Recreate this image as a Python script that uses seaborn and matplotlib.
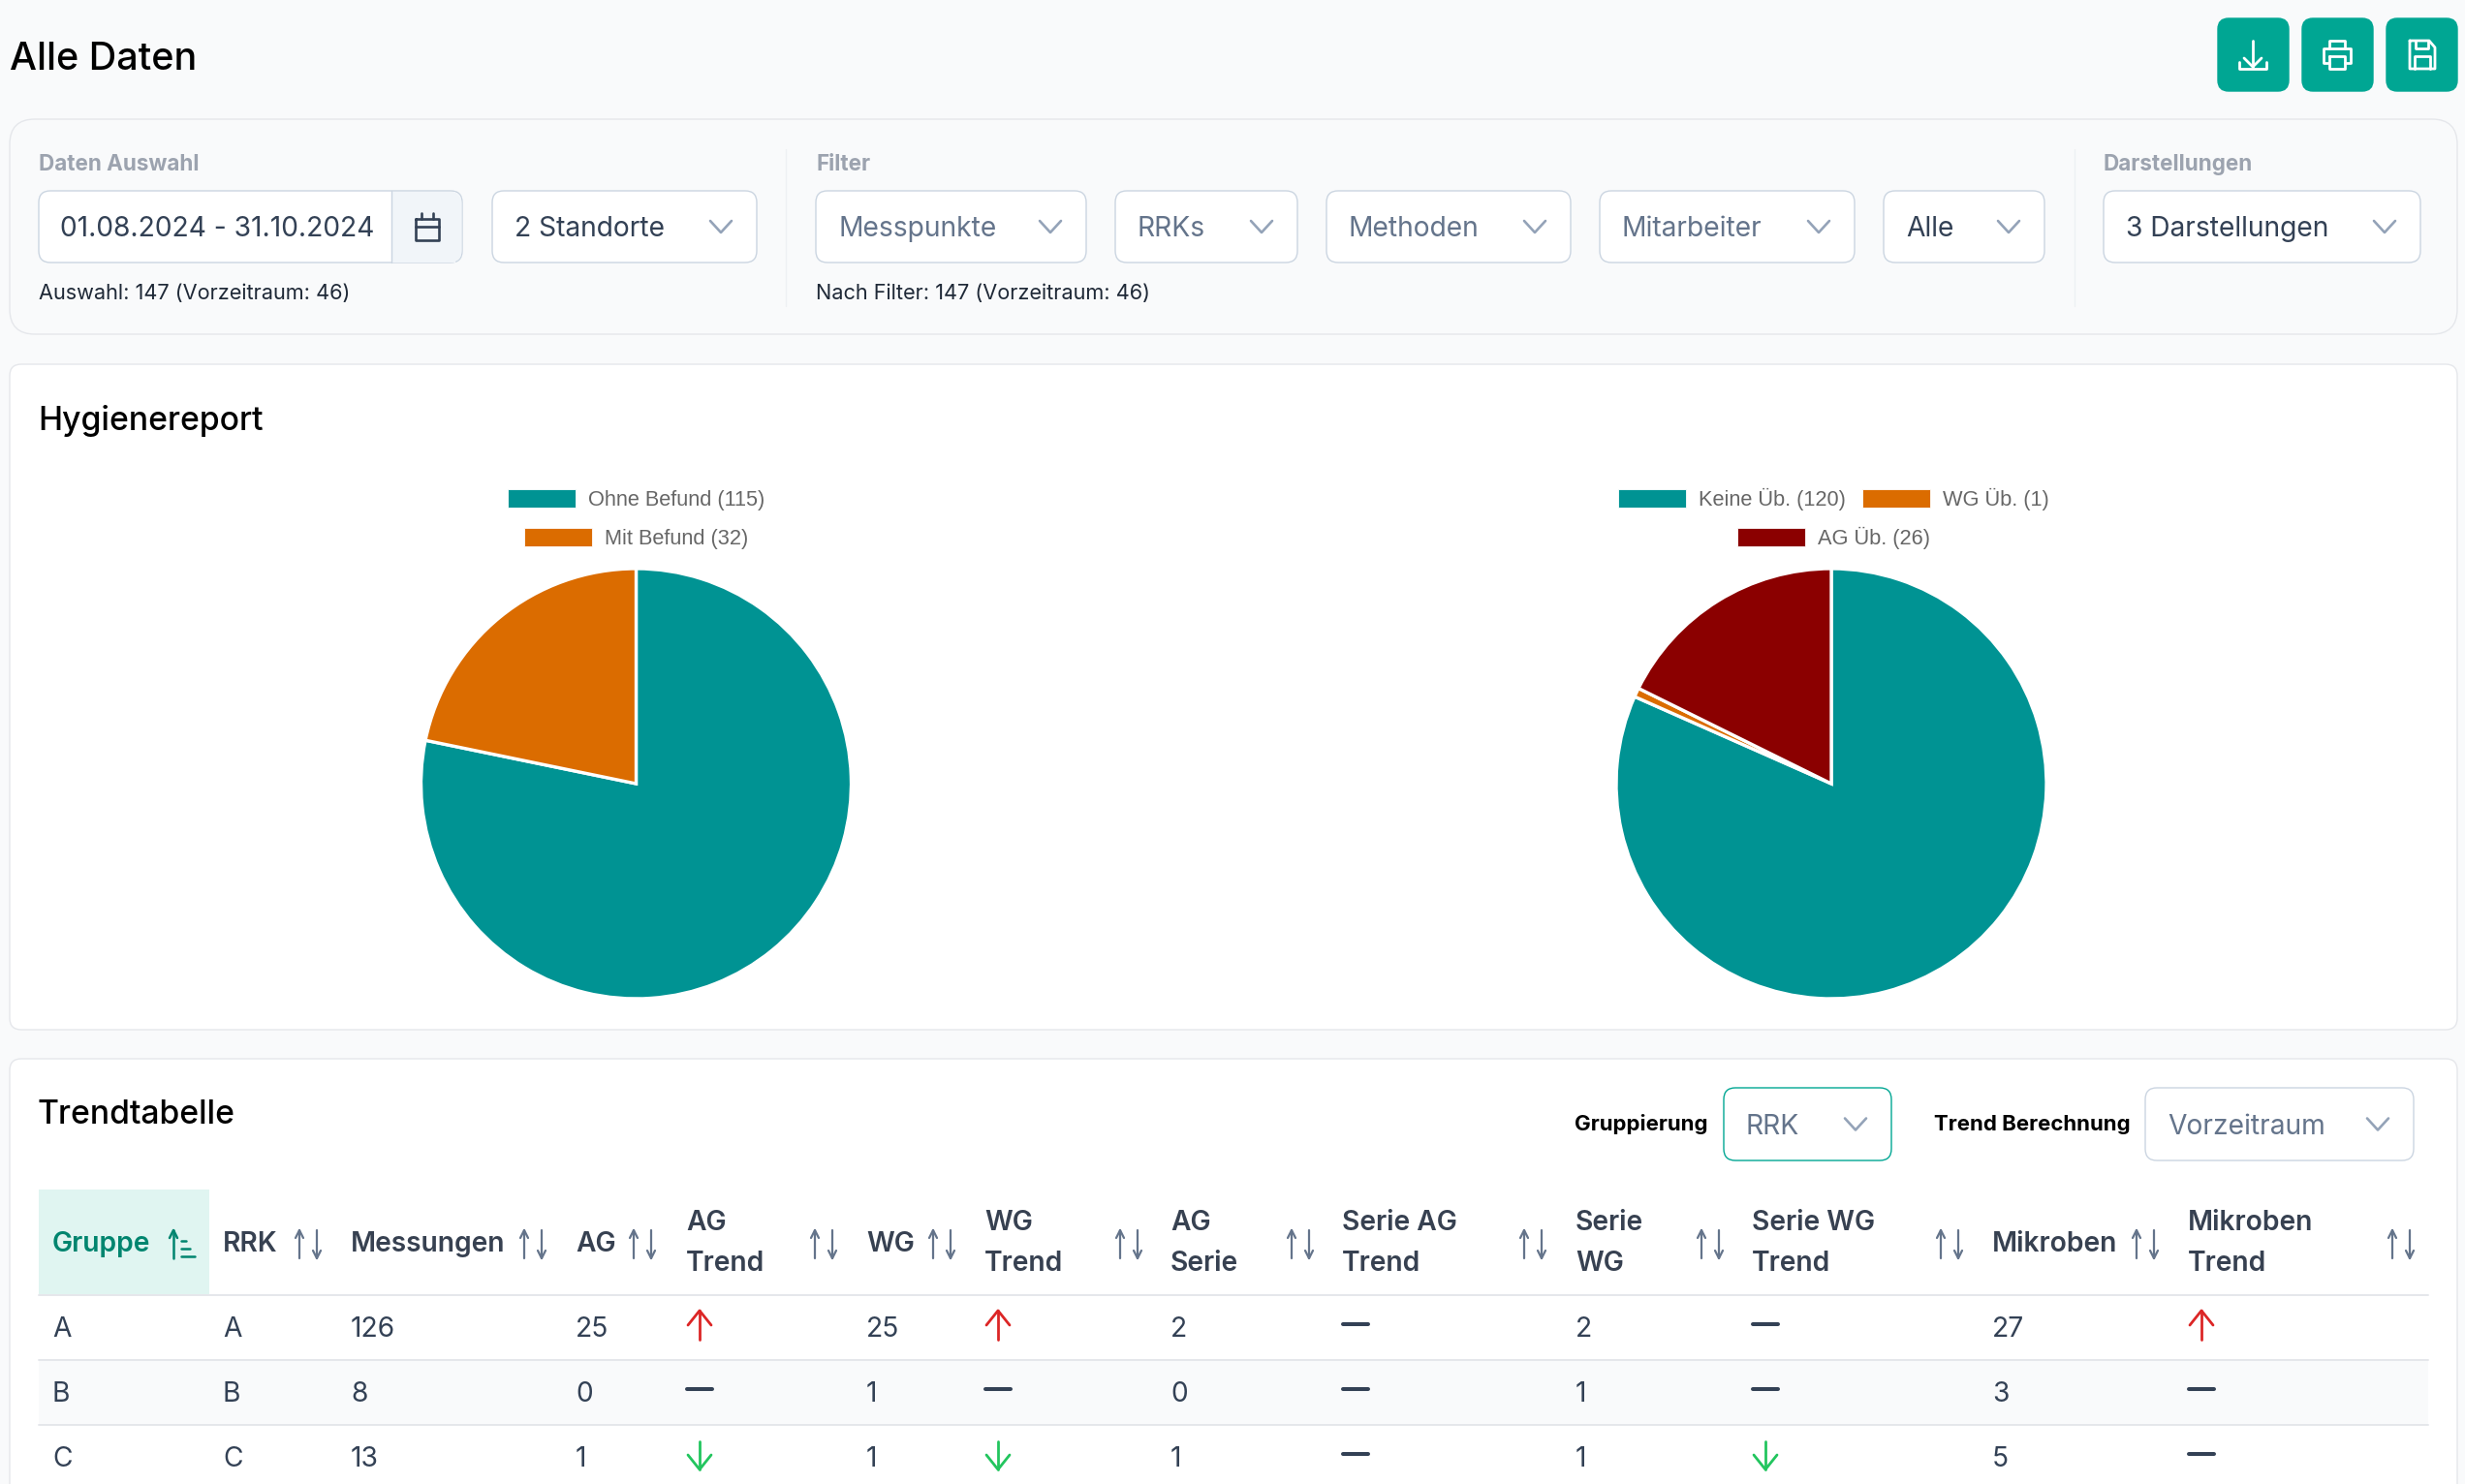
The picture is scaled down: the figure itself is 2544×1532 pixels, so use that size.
import numpy as np
import matplotlib
matplotlib.use("Agg")
import matplotlib.pyplot as plt
from matplotlib.patches import FancyBboxPatch, Rectangle
import seaborn as sns

# chart data
befund_labels = ["Ohne Befund", "Mit Befund"]
befund_values = [115, 32]
ueb_labels = ["Keine Üb.", "WG Üb.", "AG Üb."]
ueb_values = [120, 1, 26]

gruppe = ["A", "B", "C"]
rrk = ["A", "B", "C"]
messungen = [126, 8, 13]
ag = [25, 0, 1]
ag_trend = ["up", "flat", "down"]
wg = [25, 1, 1]
wg_trend = ["up", "flat", "down"]
ag_serie = [2, 0, 1]
serie_ag_trend = ["flat", "flat", "flat"]
serie_wg = [2, 1, 1]
serie_wg_trend = ["flat", "flat", "down"]
mikroben = [27, 3, 5]
mikroben_trend = ["up", "flat", "flat"]

W, H = 2544, 1532
sns.set_theme(style="white")
plt.rcParams["font.family"] = ["Inter", "DejaVu Sans"]
pie_colors = sns.color_palette(["#009393", "#DB6C00", "#8B0000"])

TEAL = "#00A693"
BORDER = "#CBD5E1"
PANEL_LINE = "#E5E7EB"
DARK = "#334155"
SLATE = "#64748B"
CHEVRON = "#94A3B8"

fig = plt.figure(figsize=(W / 100, H / 100), dpi=100, facecolor="#F9FAFB")
ax = fig.add_axes([0, 0, 1, 1])
ax.set_xlim(0, W)
ax.set_ylim(H, 0)
ax.axis("off")


def label(x, y, s, px, color="#000000", weight="normal", ha="left"):
    # y is the middle of the capital letters
    ax.text(x, y + 0.36 * px, s, fontsize=px * 0.72, color=color, weight=weight,
            ha=ha, va="baseline")


def box(x0, y0, x1, y1, fc="white", ec=BORDER, lw=1.0, r=12, z=1):
    ax.add_patch(FancyBboxPatch((x0 + r, y0 + r), x1 - x0 - 2 * r, y1 - y0 - 2 * r,
                                boxstyle=f"round,pad={r},rounding_size={r}",
                                fc=fc, ec=ec, lw=lw, zorder=z))


def stroke(xs, ys, color="white", lw=2.0, z=5):
    ax.plot(xs, ys, color=color, lw=lw, zorder=z, solid_capstyle="round",
            solid_joinstyle="round")


def chevron(cx, cy=234.5):
    stroke([cx - 11, cx, cx + 11], [cy - 6, cy + 6, cy - 6], color=CHEVRON, lw=1.9)


def select(x0, x1, text, color=SLATE, y0=197, y1=271, ec=BORDER, tx=23, cx=37):
    box(x0, y0, x1, y1, ec=ec)
    label(x0 + tx, (y0 + y1) / 2, text, 28.2, color=color)
    chevron(x1 - cx, (y0 + y1) / 2)


# header
label(10, 58, "Alle Daten", 39.5, weight="medium")
for x0, x1 in [(2289, 2362), (2376, 2449), (2463, 2536)]:
    box(x0, 19, x1, 94, fc=TEAL, ec=TEAL, r=11)

# download icon
cx = 2325
stroke([cx, cx], [42, 69])
stroke([cx - 9, cx, cx + 9], [60, 69, 60])
stroke([cx - 14, cx - 14, cx + 14, cx + 14], [64, 71, 71, 64])
# printer icon
cx = 2412
stroke([cx - 8, cx - 8, cx + 8, cx + 8], [50, 42, 42, 50])
stroke([cx - 8, cx - 14, cx - 14, cx - 8], [65, 65, 50, 50])
stroke([cx - 8, cx + 14, cx + 14, cx + 8], [50, 50, 65, 65])
stroke([cx - 8, cx - 8, cx + 8, cx + 8, cx - 8], [58, 71, 71, 58, 58])
# save icon
cx = 2500
stroke([cx - 13, cx + 7, cx + 13, cx + 13, cx - 13, cx - 13], [42, 42, 49, 71, 71, 42])
stroke([cx - 7, cx - 7, cx + 6, cx + 6], [42, 50, 50, 42])
stroke([cx - 8, cx - 8, cx + 8, cx + 8], [71, 58, 58, 71])

# filter panel
box(10, 123, 2536, 345, fc="#F9FAFB", ec=PANEL_LINE, r=26)
for x in (811, 2141):
    ax.plot([x, x], [154, 316], color="#EEF0F3", lw=1.0, zorder=2)
label(40, 168, "Daten Auswahl", 22.4, color="#9CA3AF", weight="bold")
label(842, 168, "Filter", 22.4, color="#9CA3AF", weight="bold")
label(2171, 168, "Darstellungen", 22.4, color="#9CA3AF", weight="bold")

box(40, 197, 477, 271)
ax.add_patch(Rectangle((404, 198), 66, 72.5, fc="#F1F5F9", ec="none", zorder=2))
box(440, 198, 476.5, 270.5, fc="#F1F5F9", ec="none", z=2)
ax.plot([404, 404], [197, 271], color=BORDER, lw=1.0, zorder=3)
label(62, 234, "01.08.2024 - 31.10.2024", 28.2, color=DARK)
# calendar icon
stroke([429, 429, 453, 453, 429], [226, 248, 248, 226, 226], color=DARK, lw=1.9)
stroke([429, 453], [234, 234], color=DARK, lw=1.9)
stroke([435, 435], [220, 226], color=DARK, lw=1.9)
stroke([447, 447], [220, 226], color=DARK, lw=1.9)

select(508, 781, "2 Standorte", color=DARK)
select(842, 1121, "Messpunkte")
select(1151, 1339, "RRKs")
select(1369, 1621, "Methoden")
select(1651, 1914, "Mitarbeiter")
select(1944, 2110, "Alle", color=DARK)
select(2171, 2498, "3 Darstellungen", color=DARK)
label(40, 301, "Auswahl: 147 (Vorzeitraum: 46)", 21.7, color="#1F2937")
label(842, 301, "Nach Filter: 147 (Vorzeitraum: 46)", 21.7, color="#1F2937")

# hygiene panel
box(10, 376, 2536, 1063, ec=PANEL_LINE, r=12)
label(39, 432, "Hygienereport", 33.7, weight="medium")


def pie(values, cx, cy, r=222):
    pax = fig.add_axes([(cx - r) / W, 1 - (cy + r) / H, 2 * r / W, 2 * r / H])
    pax.pie(values, colors=pie_colors[:len(values)], startangle=90, counterclock=False,
            wedgeprops={"edgecolor": "white", "linewidth": 2.4, "clip_on": False})
    pax.set_xlim(-1, 1)
    pax.set_ylim(-1, 1)
    pax.patch.set_alpha(0)


def legend_item(x0, ycenter, name, value, color):
    ax.add_patch(Rectangle((x0, ycenter - 9.5), 70, 19, fc=color, ec="white", lw=0.6, zorder=3))
    ax.text(x0 + 83, ycenter + 7.3, f"{name} ({value})", fontsize=21.8 * 0.72, color="#666666",
            family="Liberation Sans", va="baseline")


pie(befund_values, 656.5, 809)
pie(ueb_values, 1890, 809)
legend_item(524, 514.5, befund_labels[0], befund_values[0], pie_colors[0])
legend_item(541, 554.5, befund_labels[1], befund_values[1], pie_colors[1])
legend_item(1670, 514.5, ueb_labels[0], ueb_values[0], pie_colors[0])
legend_item(1922, 514.5, ueb_labels[1], ueb_values[1], pie_colors[1])
legend_item(1793, 554.5, ueb_labels[2], ueb_values[2], pie_colors[2])

# trend panel, runs off the bottom of the screenshot
box(10, 1093, 2536, 1600, ec=PANEL_LINE, r=12)
label(39, 1148, "Trendtabelle", 33.7, weight="medium")
label(1625, 1159, "Gruppierung", 22.2, weight="bold")
label(1996, 1159, "Trend Berechnung", 22.2, weight="bold")
select(1779, 1952, "RRK", y0=1123, y1=1198, ec=TEAL, cx=37)
select(2214, 2491, "Vorzeitraum", y0=1123, y1=1198, cx=37)

# table
ax.add_patch(Rectangle((40, 1228), 176, 108, fc="#E0F5F1", ec="none", zorder=2))
ax.add_patch(Rectangle((40, 1403), 2466, 67, fc="#F9FAFB", ec="none", zorder=2))
for y in (1336.5, 1403.5, 1470.5):
    ax.plot([40, 2506], [y, y], color="#E5E7EB", lw=1.4, zorder=3)

columns = [
    (["Gruppe"], 54, 187, gruppe),
    (["RRK"], 230, 318, rrk),
    (["Messungen"], 362, 550, messungen),
    (["AG"], 594, 663, ag),
    (["AG", "Trend"], 708, 850, ag_trend),
    (["WG"], 894, 972, wg),
    (["WG", "Trend"], 1016, 1165, wg_trend),
    (["AG", "Serie"], 1208, 1342, ag_serie),
    (["Serie AG", "Trend"], 1385, 1582, serie_ag_trend),
    (["Serie", "WG"], 1626, 1765, serie_wg),
    (["Serie WG", "Trend"], 1808, 2012, serie_wg_trend),
    (["Mikroben"], 2056, 2214, mikroben),
    (["Mikroben", "Trend"], 2258, 2478, mikroben_trend),
]
row_y = [1370, 1437, 1504]
TREND_COLORS = {"up": "#DC2626", "down": "#22C55E", "flat": DARK}


def arrow(cx, y0, y1, color, lw=1.9, hx=12, hy=15):
    # head sits at y1
    d = np.sign(y1 - y0)
    stroke([cx, cx], [y0, y1], color=color, lw=lw)
    stroke([cx - hx, cx, cx + hx], [y1 - d * hy, y1, y1 - d * hy], color=color, lw=lw)


def sort_icon(cx, color="#64748B"):
    arrow(cx - 9, 1299, 1270, color, lw=1.6, hx=4, hy=8)
    arrow(cx + 9, 1270, 1299, color, lw=1.6, hx=4, hy=8)


for i, (title, tx, ix, values) in enumerate(columns):
    color = "#00856F" if i == 0 else "#374151"
    if len(title) == 1:
        label(tx, 1282, title[0], 28.2, color=color, weight="semibold")
    else:
        label(tx, 1260, title[0], 28.2, color=color, weight="semibold")
        label(tx, 1302, title[1], 28.2, color=color, weight="semibold")
    if i == 0:
        arrow(ix - 8, 1299, 1270, color, lw=1.8, hx=4, hy=8)
        for yy, ln in [(1281, 5), (1289, 9), (1297, 14)]:
            stroke([ix, ix + ln], [yy, yy], color=color, lw=1.8)
    else:
        sort_icon(ix)
    for y, v in zip(row_y, values):
        if v in TREND_COLORS:
            cx = tx + 14
            if v == "up":
                arrow(cx, y + 13, y - 17, TREND_COLORS[v], lw=2.0)
            elif v == "down":
                arrow(cx, y - 16, y + 13, TREND_COLORS[v], lw=2.0)
            else:
                ax.plot([cx - 13, cx + 13], [y - 3, y - 3], color=DARK, lw=2.9, zorder=5,
                        solid_capstyle="round")
        else:
            label(tx, y, str(v), 28.2, color=DARK)

fig.savefig("out.png", dpi=100, facecolor=fig.get_facecolor())
